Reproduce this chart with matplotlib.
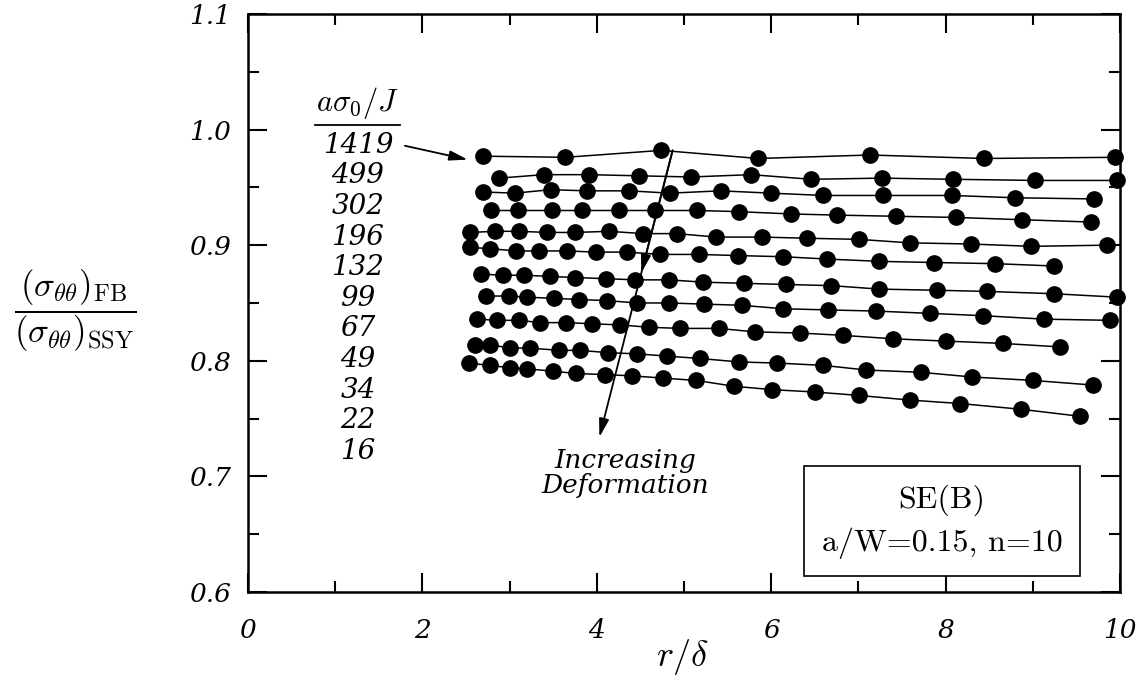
import matplotlib
matplotlib.use("Agg")
import matplotlib.pyplot as plt
from matplotlib.ticker import MultipleLocator, FormatStrFormatter

plt.rcParams['mathtext.fontset'] = 'cm'

# r/delta positions and stress ratios, one row per a*sigma0/J level (top to bottom)
labels = ['1419', '499', '302', '196', '132', '99', '67', '49', '34', '22', '16']

x_1419 = [2.69, 3.64, 4.74, 5.85, 7.13, 8.44, 9.94]
y_1419 = [0.977, 0.976, 0.982, 0.975, 0.978, 0.975, 0.976]
x_499 = [2.88, 3.39, 3.91, 4.48, 5.08, 5.77, 6.46, 7.27, 8.08, 9.03, 9.97]
y_499 = [0.958, 0.961, 0.961, 0.960, 0.959, 0.961, 0.957, 0.958, 0.957, 0.956, 0.956]
x_302 = [2.70, 3.06, 3.47, 3.89, 4.37, 4.84, 5.42, 6.00, 6.60, 7.28, 8.07, 8.80, 9.70]
y_302 = [0.946, 0.945, 0.948, 0.947, 0.947, 0.945, 0.947, 0.945, 0.943, 0.943, 0.943, 0.941, 0.940]
x_196 = [2.79, 3.10, 3.49, 3.83, 4.25, 4.67, 5.15, 5.63, 6.23, 6.76, 7.43, 8.12, 8.88, 9.67]
y_196 = [0.930, 0.930, 0.930, 0.930, 0.930, 0.930, 0.930, 0.929, 0.927, 0.926, 0.925, 0.924, 0.922, 0.920]
x_132 = [2.55, 2.83, 3.11, 3.43, 3.75, 4.14, 4.53, 4.92, 5.37, 5.90, 6.41, 7.01, 7.59, 8.29, 8.98, 9.85]
y_132 = [0.911, 0.912, 0.912, 0.911, 0.911, 0.912, 0.910, 0.910, 0.907, 0.907, 0.906, 0.905, 0.902, 0.901, 0.899, 0.900]
x_99 = [2.55, 2.78, 3.07, 3.34, 3.66, 3.99, 4.35, 4.73, 5.17, 5.62, 6.14, 6.64, 7.24, 7.87, 8.57, 9.24]
y_99 = [0.898, 0.897, 0.895, 0.895, 0.895, 0.894, 0.894, 0.892, 0.892, 0.891, 0.890, 0.888, 0.886, 0.885, 0.884, 0.882]
x_67 = [2.67, 2.92, 3.16, 3.46, 3.75, 4.11, 4.44, 4.83, 5.22, 5.69, 6.17, 6.69, 7.24, 7.90, 8.48, 9.24, 9.97]
y_67 = [0.875, 0.874, 0.874, 0.873, 0.872, 0.871, 0.870, 0.870, 0.868, 0.867, 0.866, 0.865, 0.862, 0.861, 0.860, 0.858, 0.855]
x_49 = [2.73, 2.99, 3.20, 3.51, 3.80, 4.12, 4.46, 4.83, 5.23, 5.66, 6.14, 6.65, 7.20, 7.82, 8.43, 9.13, 9.88]
y_49 = [0.856, 0.856, 0.855, 0.854, 0.853, 0.852, 0.850, 0.850, 0.849, 0.848, 0.845, 0.844, 0.843, 0.841, 0.839, 0.836, 0.835]
x_34 = [2.63, 2.86, 3.11, 3.35, 3.65, 3.95, 4.27, 4.60, 4.95, 5.40, 5.81, 6.33, 6.82, 7.40, 8.01, 8.66, 9.31]
y_34 = [0.836, 0.835, 0.835, 0.833, 0.833, 0.832, 0.831, 0.829, 0.828, 0.828, 0.825, 0.824, 0.822, 0.819, 0.817, 0.815, 0.812]
x_22 = [2.60, 2.77, 3.00, 3.23, 3.57, 3.81, 4.13, 4.46, 4.81, 5.18, 5.63, 6.07, 6.60, 7.09, 7.72, 8.30, 9.00, 9.69]
y_22 = [0.814, 0.814, 0.811, 0.811, 0.809, 0.809, 0.807, 0.806, 0.804, 0.802, 0.799, 0.798, 0.796, 0.792, 0.790, 0.786, 0.783, 0.779]
x_16 = [2.53, 2.77, 3.00, 3.20, 3.50, 3.76, 4.10, 4.40, 4.76, 5.14, 5.57, 6.01, 6.50, 7.01, 7.59, 8.17, 8.87, 9.54]
y_16 = [0.798, 0.796, 0.794, 0.793, 0.791, 0.789, 0.788, 0.787, 0.785, 0.783, 0.778, 0.775, 0.773, 0.770, 0.766, 0.763, 0.758, 0.752]

xs = [x_1419, x_499, x_302, x_196, x_132, x_99, x_67, x_49, x_34, x_22, x_16]
ys = [y_1419, y_499, y_302, y_196, y_132, y_99, y_67, y_49, y_34, y_22, y_16]

fig = plt.figure(figsize=(11.39, 6.85), dpi=100)
ax = fig.add_axes([0.2177, 0.1358, 0.7656, 0.8438])

for x, y in zip(xs, ys):
    ax.plot(x, y, '-', color='black', lw=1.1, marker='o', ms=11,
            mfc='black', mec='black', clip_on=False, zorder=3)

ax.set_xlim(0, 10)
ax.set_ylim(0.6, 1.1)
ax.xaxis.set_major_locator(MultipleLocator(2))
ax.xaxis.set_minor_locator(MultipleLocator(1))
ax.yaxis.set_major_locator(MultipleLocator(0.1))
ax.yaxis.set_minor_locator(MultipleLocator(0.05))
ax.xaxis.set_major_formatter(FormatStrFormatter('%d'))
ax.yaxis.set_major_formatter(FormatStrFormatter('%.1f'))
ax.tick_params(which='both', direction='in', top=True, right=True, width=1.5)
ax.tick_params(which='major', length=14)
ax.tick_params(which='minor', length=8)
ax.tick_params(axis='y', which='major', pad=12)
ax.tick_params(axis='x', which='major', pad=19)
for s in ax.spines.values():
    s.set_linewidth(1.8)
for lab in ax.get_xticklabels() + ax.get_yticklabels():
    lab.set_fontfamily('DejaVu Serif')
    lab.set_fontstyle('italic')
    lab.set_fontsize(19)

ax.set_xlabel(r'$r/\delta$', fontsize=26)
ax.xaxis.set_label_coords(0.498, -0.078)
fig.text(0.066, 0.547,
         r'$\dfrac{(\sigma_{\theta\theta})_{\rm FB}}{(\sigma_{\theta\theta})_{\rm SSY}}$',
         fontsize=25, ha='center', va='center')

# label column
ax.text(1.26, 1.023, r'$a\sigma_0/J$', fontsize=22, ha='center', va='center')
ax.plot([0.77, 1.74], [1.004, 1.004], color='black', lw=1.3, clip_on=False)
for i, lab in enumerate(labels):
    ax.text(1.26, 0.9865 - i * 0.0265, lab, fontsize=20, ha='center', va='center',
            family='DejaVu Serif', style='italic')

arrow = dict(arrowstyle='-|>,head_length=1.1,head_width=0.3',
             color='black', lw=1.3, shrinkA=0, shrinkB=0)
ax.annotate('', xy=(2.52, 0.974), xytext=(1.80, 0.986), arrowprops=arrow, zorder=5)

# increasing deformation arrow (with mid arrowhead)
ax.annotate('', xy=(4.03, 0.734), xytext=(4.87, 0.982), arrowprops=arrow, zorder=5)
ax.annotate('', xy=(4.51, 0.876), xytext=(4.87, 0.982), arrowprops=arrow, zorder=6)
ax.text(4.33, 0.703, 'Increasing\nDeformation', fontsize=19, ha='center', va='center',
        family='DejaVu Serif', style='italic', linespacing=1.0)

ax.text(7.96, 0.661, 'SE(B)\na/W=0.15, n=10', fontsize=23, ha='center', va='center',
        family='cmr10', linespacing=1.5,
        bbox=dict(boxstyle='square,pad=0.55', fc='white', ec='black', lw=1.2))

fig.savefig('out.png', dpi=100)
